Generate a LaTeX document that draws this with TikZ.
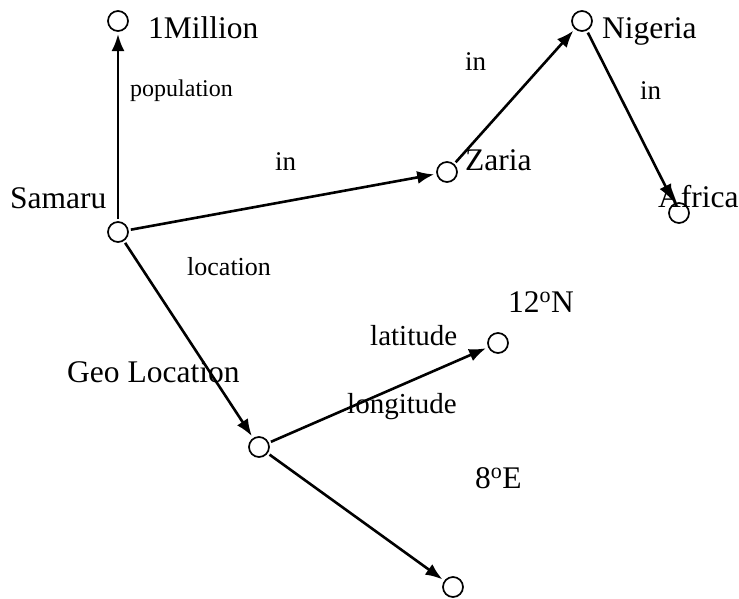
\documentclass[tikz,border=0pt]{standalone}
\usepackage{fontspec}
\setmainfont{Liberation Serif}
\usetikzlibrary{arrows.meta}

\begin{document}
\begin{tikzpicture}[x=1pt,y=-1pt,
        v/.style={circle,draw,line width=1.7pt,fill=white,minimum size=20pt,inner sep=0pt,outer sep=3pt},
        t/.style={anchor=base west,inner sep=0pt,font=\fontsize{31.5}{36}\selectfont},
        tm/.style={anchor=base west,inner sep=0pt,font=\fontsize{29}{33}\selectfont},
        ts/.style={anchor=base west,inner sep=0pt,font=\fontsize{27}{31}\selectfont},
        a/.style={-{Latex[length=17pt,width=13pt]},line width=2.6pt}]
        \useasboundingbox (0,0) rectangle (739,598);
        % vertices
        \node[v] (samaru) at (118,232) {};
        \node[v] (million) at (118,21) {};
        \node[v] (zaria) at (447,172) {};
        \node[v] (nigeria) at (582,21) {};
        \node[v] (africa) at (679,213) {};
        \node[v] (geo) at (259,447) {};
        \node[v] (lat) at (498,343) {};
        \node[v] (lon) at (453,587) {};
        % arcs
        \draw[a] (samaru)--(million);
        \draw[a] (samaru)--(zaria);
        \draw[a] (zaria)--(nigeria);
        \draw[a] (nigeria)--(africa);
        \draw[a] (samaru)--(geo);
        \draw[a] (geo)--(lat);
        \draw[a] (geo)--(lon);
        % names
        \node[t] (samarut) at (10,208) {Samaru};
        \node[t] (milliont) at (148,38) {1Million};
        \node[t] (zariat) at (465,170) {Zaria};
        \node[t] (nigeriat) at (602,38) {Nigeria};
        \node[t] (africat) at (658,207) {Africa};
        \node[t] (geot) at (67,382) {Geo Location};
        \node[t] (latt) at (508,312) {12\textsuperscript{o}N};
        \node[t] (lont) at (475,488) {8\textsuperscript{o}E};
        % arc labels
        \node[ts,font=\fontsize{24}{28}\selectfont] (popl) at (130,96) {population};
        \node[ts,font=\fontsize{26}{30}\selectfont] (locl) at (187,275) {location};
        \node[ts] (inl) at (275,170) {in};
        \node[ts] (inzl) at (465,70) {in};
        \node[ts] (innl) at (640,99) {in};
        \node[tm] (latl) at (370,345) {latitude};
        \node[tm] (lonl) at (347,413) {longitude};
      \end{tikzpicture}
\end{document}
